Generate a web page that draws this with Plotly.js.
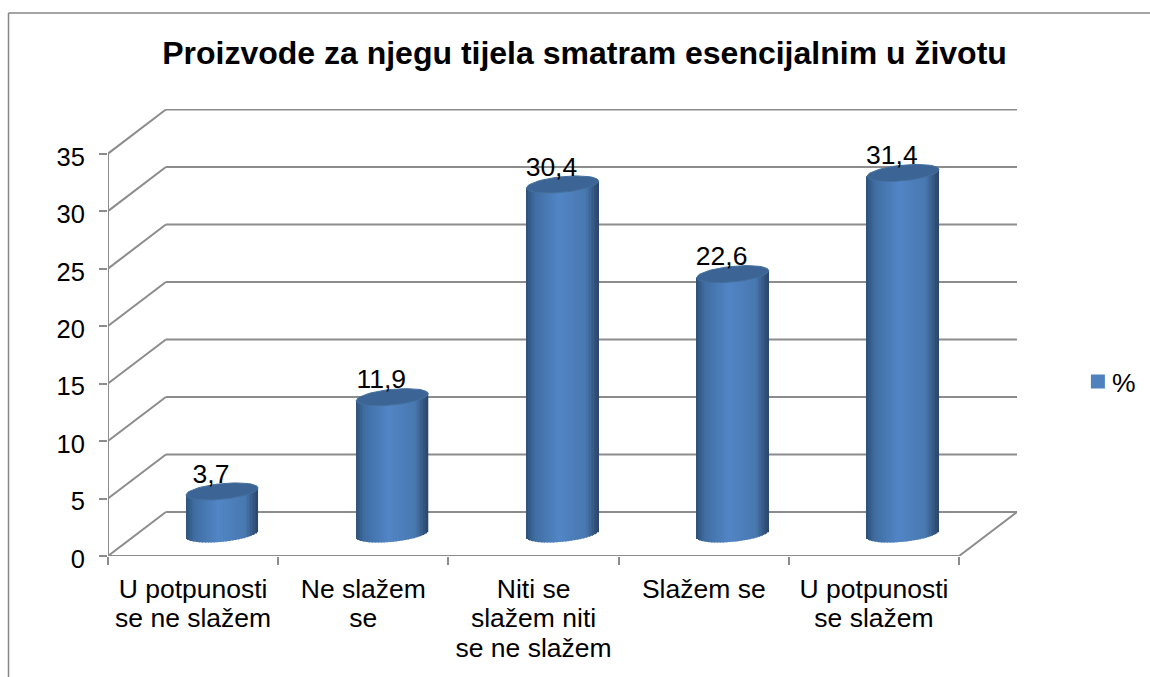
<!DOCTYPE html>
<html>
<head>
<meta charset="utf-8">
<script src="https://cdn.plot.ly/plotly-3.0.1.min.js"></script>
<style>
  html, body { margin: 0; padding: 0; background: #fff; overflow: hidden; }
  #chart { width: 1150px; height: 677px; }
</style>
</head>
<body>
<div id="chart"></div>
<script>
const categories = ['U potpunosti<br>se ne slažem', 'Ne slažem<br>se', 'Niti se<br>slažem niti<br>se ne slažem', 'Slažem se', 'U potpunosti<br>se slažem'];
const values = [3.7, 11.9, 30.4, 22.6, 31.4];
const yTicks = [0, 5, 10, 15, 20, 25, 30, 35];
const seriesName = '%';

const FONT = '"Liberation Sans", Arial, sans-serif';
const GRID = '#8c8c8c';

// Fake 3D: the back wall sits up and to the right of the front axes
const DEPTH_X = 0.34;    // in category units
const DEPTH_Y = 3.83;    // in value units
const X_MAX = categories.length + DEPTH_X;
const Y_MAX = 38.88;

// Cylinder shape, in axis units
const RADIUS = 0.2115;
const ELLIPSE_B = 0.68;
const ELLIPSE_TILT = 0.3;
const STRIPS = 48;

const centers = categories.map((_, i) => i + 0.5 + DEPTH_X / 2);
const baseY = DEPTH_Y / 2;

// Side shading, left edge to right edge
const shadeStops = [
    [-1, [45, 80, 122]],
    [-0.75, [64, 110, 163]],
    [-0.1, [81, 133, 197]],
    [0.65, [72, 120, 176]],
    [1, [42, 69, 104]]
];

function shade(t) {
    for (let i = 1; i < shadeStops.length; i++) {
        const [t1, c1] = shadeStops[i];
        const [t0, c0] = shadeStops[i - 1];
        if (t <= t1) {
            const f = (t - t0) / (t1 - t0);
            const c = c0.map((v, k) => Math.round(v + (c1[k] - v) * f));
            return `rgb(${c[0]},${c[1]},${c[2]})`;
        }
    }
    return 'rgb(42,69,104)';
}

// Vertical strips make up the cylinder bodies
const stripX = [], stripBase = [], stripY = [], stripColor = [];
values.forEach((v, i) => {
    for (let s = 0; s < STRIPS; s++) {
        const t = (s + 0.5) / STRIPS * 2 - 1;
        const bottom = baseY + ELLIPSE_TILT * t - ELLIPSE_B * Math.sqrt(1 - t * t);
        const top = baseY + v + ELLIPSE_TILT * t;
        stripX.push(centers[i] + t * RADIUS);
        stripBase.push(bottom);
        stripY.push(top - bottom);
        stripColor.push(shade(t));
    }
});

// Top caps, one closed ellipse per bar
const capX = [], capY = [];
values.forEach((v, i) => {
    for (let a = 0; a <= 60; a++) {
        const th = a / 60 * 2 * Math.PI;
        capX.push(centers[i] + RADIUS * Math.cos(th));
        capY.push(baseY + v + ELLIPSE_TILT * Math.cos(th) + ELLIPSE_B * Math.sin(th));
    }
    capX.push(null);
    capY.push(null);
});

const traces = [
    {
        type: 'bar',
        name: seriesName,
        x: centers,
        y: values,
        base: values.map(() => baseY),
        width: 0.3,
        marker: { color: '#4F81BD', line: { color: '#4F81BD', width: 2 } },
        hoverinfo: 'skip'
    },
    {
        type: 'bar',
        x: stripX,
        y: stripY,
        base: stripBase,
        width: 2 * RADIUS / STRIPS,
        marker: { color: stripColor, line: { width: 0 } },
        showlegend: false,
        hoverinfo: 'skip'
    },
    {
        type: 'scatter',
        mode: 'lines',
        x: capX,
        y: capY,
        fill: 'toself',
        fillcolor: '#3c6596',
        line: { color: '#44709f', width: 1 },
        showlegend: false,
        hoverinfo: 'skip'
    },
    {
        type: 'scatter',
        mode: 'text',
        x: centers.map(c => c - 0.065),
        y: values.map(v => v + baseY + 1.35),
        text: values.map(v => v.toFixed(1).replace('.', ',')),
        textposition: 'middle center',
        textfont: { family: FONT, size: 26.5, color: '#000' },
        cliponaxis: false,
        showlegend: false,
        hoverinfo: 'skip'
    }
];

function gridLine(x0, y0, x1, y1) {
    return {
        type: 'line', layer: 'below', xref: 'x', yref: 'y',
        x0: x0, y0: y0, x1: x1, y1: y1,
        line: { color: GRID, width: 2 }
    };
}

const N = categories.length;
const shapes = [];
yTicks.forEach(v => {
    shapes.push(gridLine(0, v, DEPTH_X, v + DEPTH_Y));
    shapes.push(gridLine(DEPTH_X, v + DEPTH_Y, X_MAX, v + DEPTH_Y));
});
shapes.push(gridLine(0, 0, 0, 35));                     // value axis
shapes.push(gridLine(0, 0, N, 0));                      // front of floor
shapes.push(gridLine(N, 0, X_MAX, DEPTH_Y));            // right of floor

// Outer frame, left and top only are in view
const frameL = (8.5 - 108) / 909, frameT = 1 + (109 - 13) / 446.7;
['left', 'top'].forEach(side => {
    shapes.push({
        type: 'line', xref: 'paper', yref: 'paper',
        x0: frameL, y0: side === 'left' ? -0.3 : frameT,
        x1: side === 'left' ? frameL : 1.2, y1: frameT,
        line: { color: '#868686', width: 1.5 }
    });
});

const layout = {
    width: 1150,
    height: 677,
    paper_bgcolor: '#fff',
    plot_bgcolor: 'rgba(0,0,0,0)',
    font: { family: FONT, color: '#000' },
    margin: { l: 108, r: 133, t: 109, b: 121.3, autoexpand: false },
    barmode: 'overlay',
    title: {
        text: '<b>Proizvode za njegu tijela smatram esencijalnim u životu</b>',
        font: { family: FONT, size: 32, color: '#000' },
        x: 584.5 / 1150,
        xanchor: 'center',
        y: 1 - 53 / 677,
        yanchor: 'middle'
    },
    xaxis: {
        range: [0, X_MAX],
        tickmode: 'array',
        tickvals: categories.map((_, i) => i + 0.5),
        ticktext: categories,
        ticks: '',
        tickangle: 0,
        ticklabelstandoff: 14,
        tickfont: { family: FONT, size: 26.5, color: '#000' },
        showgrid: false,
        zeroline: false,
        showline: false,
        minor: {
            tickmode: 'array',
            tickvals: categories.map((_, i) => i).concat([N]),
            ticks: 'outside',
            ticklen: 8,
            tickwidth: 2,
            tickcolor: GRID,
            showgrid: false
        }
    },
    yaxis: {
        range: [0, Y_MAX],
        tickmode: 'array',
        tickvals: yTicks,
        ticktext: yTicks.map(String),
        ticks: 'outside',
        ticklen: 8,
        tickwidth: 2,
        tickcolor: GRID,
        ticklabelstandoff: 9,
        tickfont: { family: FONT, size: 25.5, color: '#000' },
        showgrid: false,
        zeroline: false,
        showline: false
    },
    legend: {
        x: 1.067,
        xanchor: 'left',
        y: 0.39,
        yanchor: 'middle',
        font: { family: FONT, size: 26.5, color: '#000' },
        bgcolor: 'rgba(0,0,0,0)',
        itemwidth: 30
    },
    shapes: shapes
};

Plotly.newPlot('chart', traces, layout, { displayModeBar: false }).then(() => {
    // Excel sets wrapped labels tighter than Plotly's 1.3em
    document.querySelectorAll('.xtick text').forEach(label => {
        label.querySelectorAll('tspan.line').forEach((t, i) => t.setAttribute('dy', (i * 1.12) + 'em'));
    });
    // Value labels sit a little lower than the tick, legend text closer to its swatch
    document.querySelectorAll('.ytick text').forEach(label => label.setAttribute('dy', '3'));
    document.querySelectorAll('.legendtext').forEach(label => {
        label.setAttribute('x', parseFloat(label.getAttribute('x')) - 6);
    });
});
</script>
</body>
</html>
